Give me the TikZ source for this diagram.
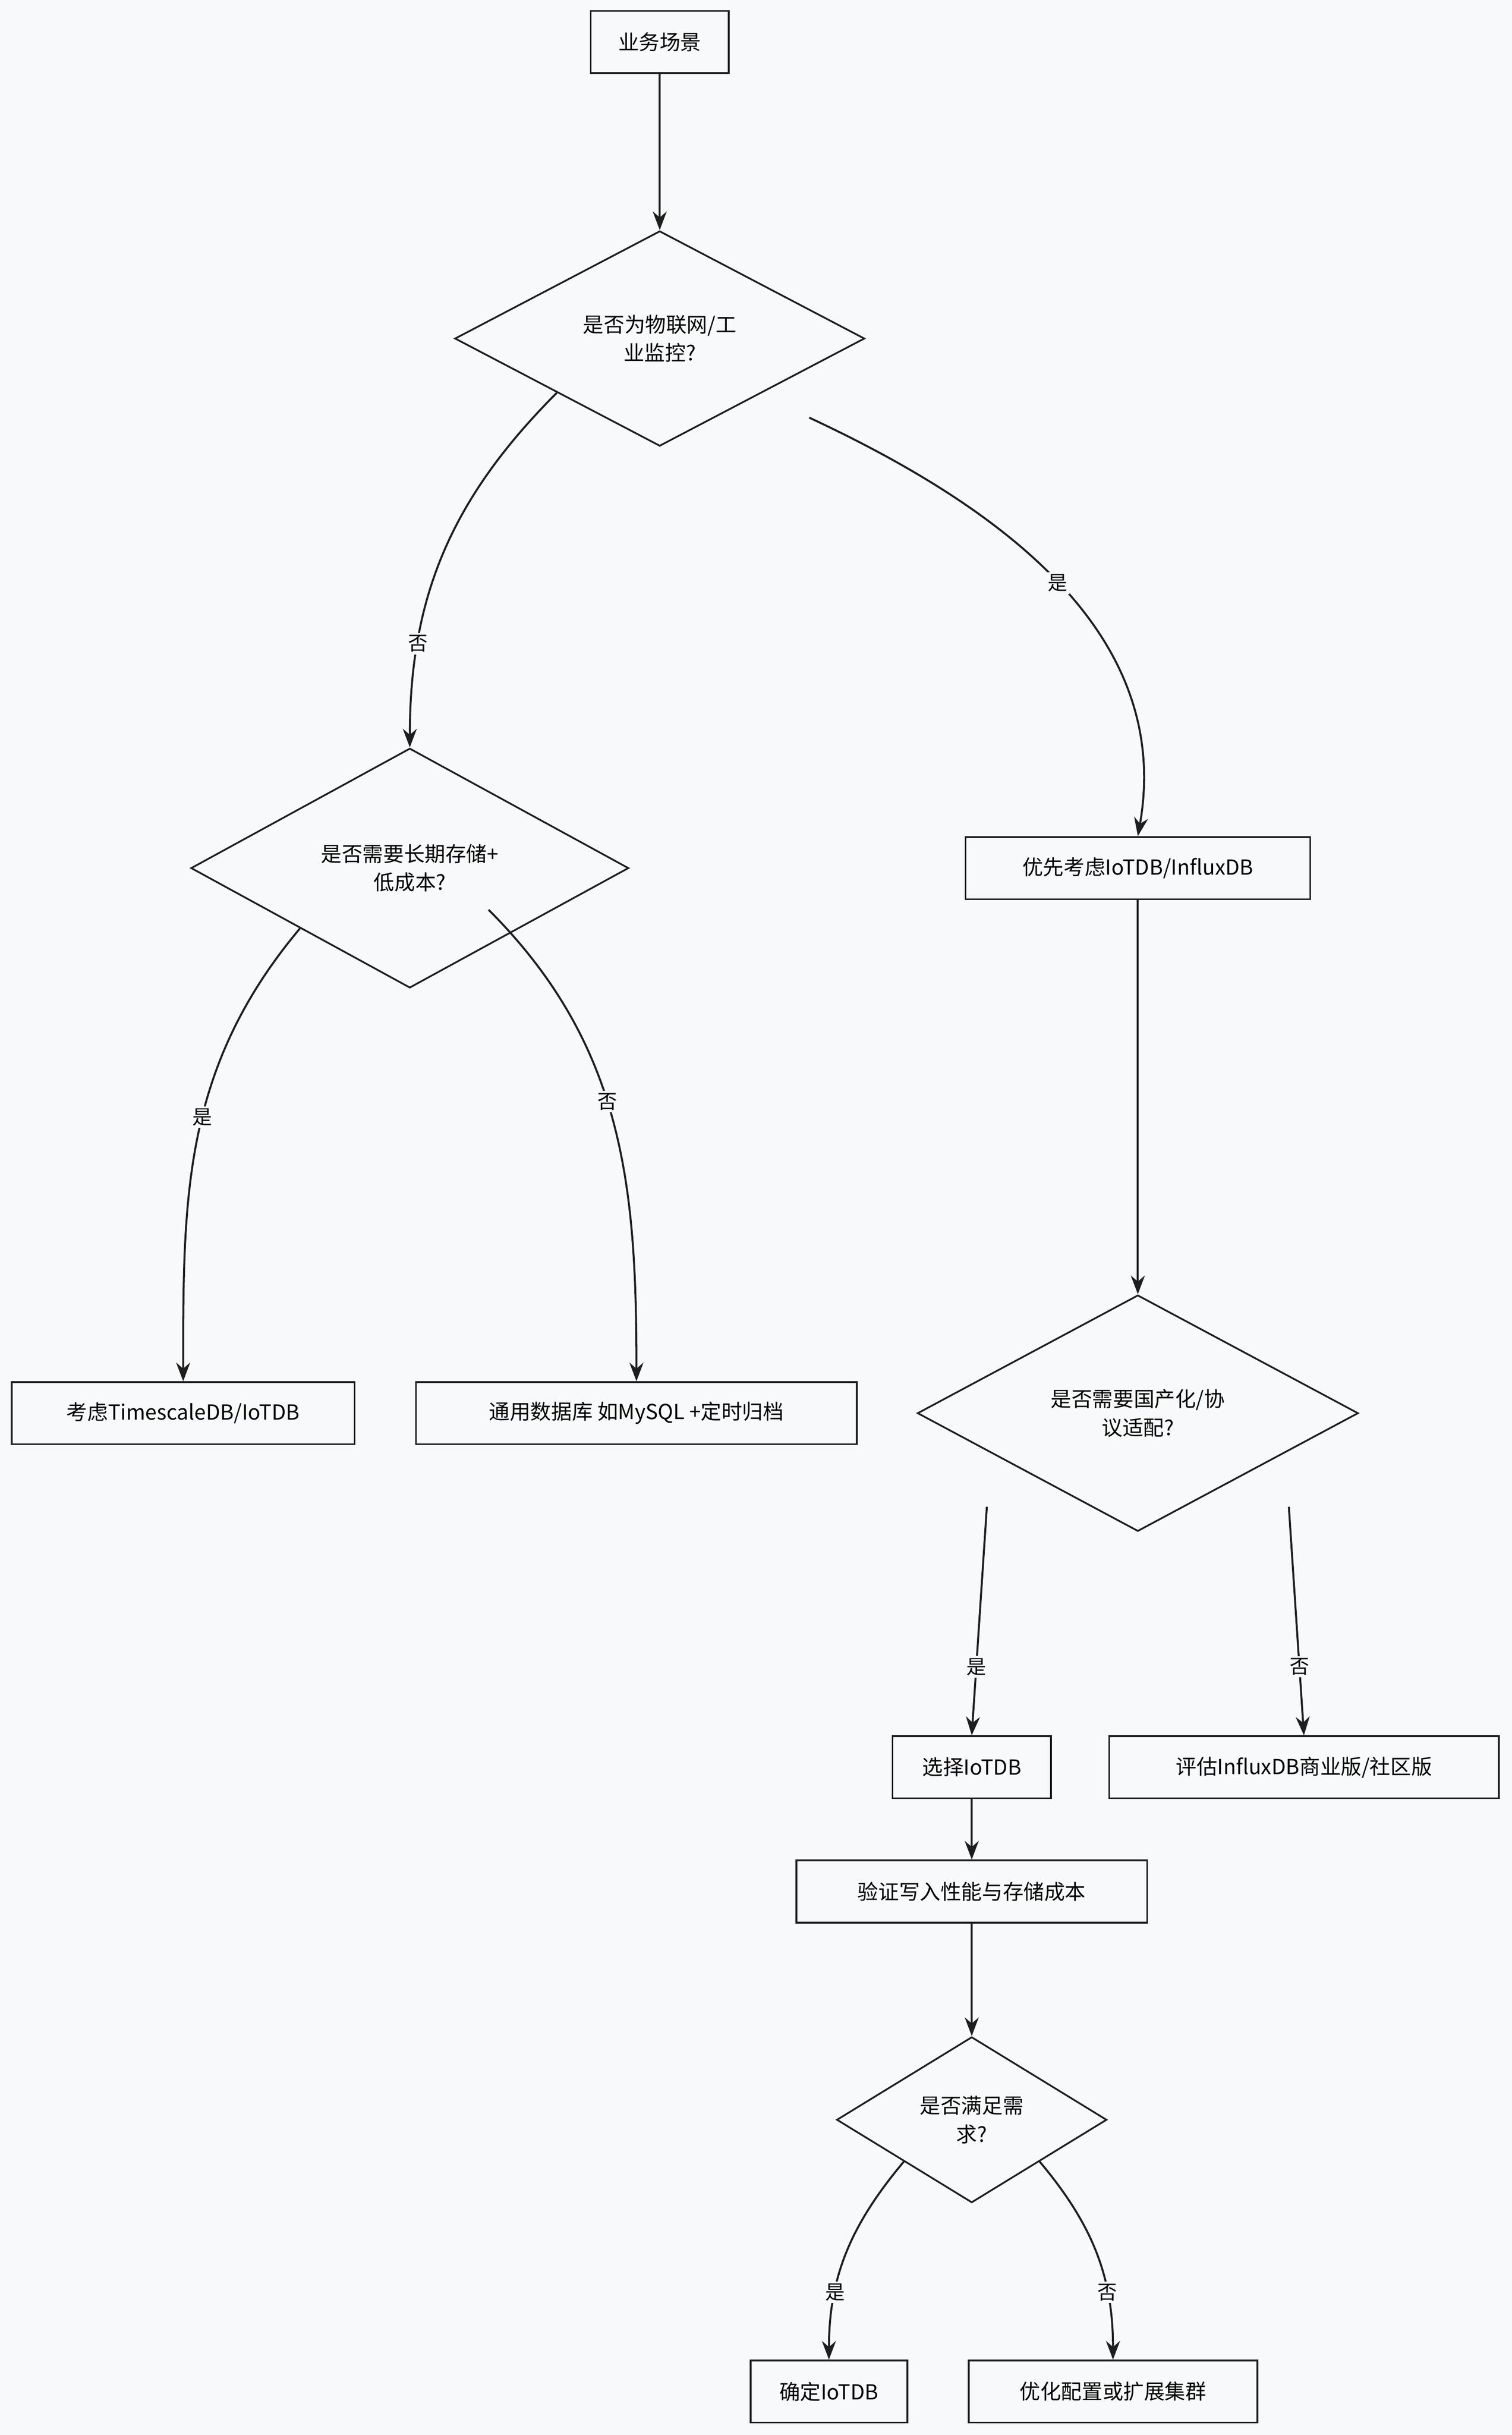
\documentclass[tikz,border=0pt]{standalone}
\usepackage{fontspec}
\setmainfont{Noto Sans CJK SC}
\usetikzlibrary{shapes.geometric,arrows.meta}
\definecolor{bgcol}{HTML}{F8F9FA}
\definecolor{inkcol}{HTML}{1E1E1E}
\tikzset{
  box/.style={draw=inkcol, line width=1.6pt, rectangle, minimum height=2cm, inner xsep=0.6cm, font=\fontsize{19}{24}\selectfont},
  dec/.style={draw=inkcol, line width=1.6pt, diamond, aspect=1, align=center, font=\fontsize{19}{26}\selectfont},
  edge/.style={draw=inkcol, line width=1.8pt, -{Stealth[length=0.6cm,width=0.45cm]}},
  lab/.style={fill=bgcol, inner sep=2pt, font=\fontsize{18}{22}\selectfont}
}
\begin{document}
\begin{tikzpicture}[x=0.05cm, y=-0.05cm]
  \fill[bgcol] (0,0) rectangle (974,1568);
  \useasboundingbox (0,0) rectangle (974,1568);

  \node[box, minimum width=4.45cm] (start) at (425,27) {业务场景};
  \node[dec, minimum width=13.2cm] (iot) at (425,218) {是否为物联网/工\\业监控?};
  \node[dec, minimum width=14.1cm] (cost) at (264,559) {是否需要长期存储+\\低成本?};
  \node[box, minimum width=11.1cm] (first) at (733,559) {优先考虑IoTDB/InfluxDB};
  \node[dec, minimum width=14.2cm] (local) at (733,910) {是否需要国产化/协\\议适配?};
  \node[box, minimum width=11.05cm] (ts) at (118,910) {考虑TimescaleDB/IoTDB};
  \node[box, minimum width=14.2cm] (mysql) at (410,910) {通用数据库 如MySQL +定时归档};
  \node[box, minimum width=5.1cm] (sel) at (626,1138) {选择IoTDB};
  \node[box, minimum width=12.55cm] (eval) at (840,1138) {评估InfluxDB商业版/社区版};
  \node[box, minimum width=11.3cm] (verify) at (626,1218) {验证写入性能与存储成本};
  \node[dec, minimum width=8.7cm] (meet) at (626,1365) {是否满足需\\求?};
  \node[box, minimum width=5.05cm] (ok) at (534,1540) {确定IoTDB};
  \node[box, minimum width=9.3cm] (opt) at (717,1540) {优化配置或扩展集群};

  \draw[edge] (start) -- (iot.north);
  \draw[edge] (iot.south west) to[out=-135,in=90] node[lab, pos=0.75] {否} (cost.north);
  \draw[edge] ([xshift=1.5cm,yshift=-0.8cm]iot.south east) to[out=-25,in=80] node[lab, pos=0.5] {是} (first.north);
  \draw[edge] (cost.south west) to[out=-130,in=90] node[lab, pos=0.45] {是} (ts.north);
  \draw[edge] ([xshift=-1cm,yshift=0.6cm]cost.south east) to[out=-45,in=90] node[lab, pos=0.45] {否} (mysql.north);
  \draw[edge] (first) -- (local.north);
  \draw[edge] ([xshift=-1.3cm,yshift=-1.1cm]local.south west) -- node[lab, pos=0.7] {是} (sel.north);
  \draw[edge] ([xshift=1.3cm,yshift=-1.1cm]local.south east) -- node[lab, pos=0.7] {否} (eval.north);
  \draw[edge] (sel) -- (verify);
  \draw[edge] (verify) -- (meet.north);
  \draw[edge] (meet.south west) to[out=-130,in=90] node[lab, pos=0.7] {是} (ok.north);
  \draw[edge] (meet.south east) to[out=-50,in=90] node[lab, pos=0.7] {否} (opt.north);
\end{tikzpicture}
\end{document}
